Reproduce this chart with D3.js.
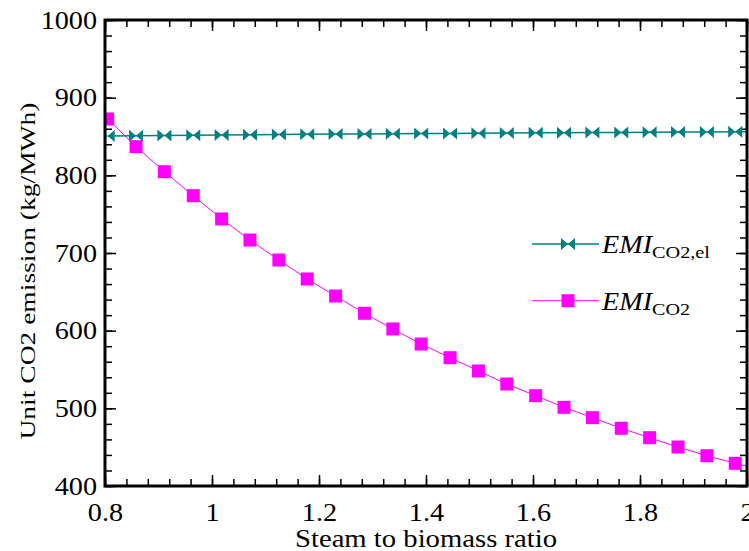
<!DOCTYPE html>
<html>
<head>
<meta charset="utf-8">
<script src="https://cdn.jsdelivr.net/npm/d3@7/dist/d3.min.js"></script>
<style>
  body { margin: 0; background: #fff; }
  svg { display: block; font-family: "Liberation Serif", "Times New Roman", serif; }
</style>
</head>
<body>
<div id="chart"></div>
<script>
// steam-to-biomass sweep
var steamRatio = [0.805, 0.858, 0.911, 0.965, 1.018, 1.071, 1.125, 1.178, 1.231, 1.285, 1.338, 1.391,
                  1.445, 1.498, 1.551, 1.605, 1.658, 1.711, 1.765, 1.818, 1.871, 1.925, 1.978, 2.031];
var emiCO2el   = [850.5, 851.0, 851.3, 851.6, 851.9, 852.2, 852.5, 852.8, 853.1, 853.3, 853.6, 853.8,
                  854.0, 854.3, 854.5, 854.7, 854.9, 855.1, 855.3, 855.5, 855.7, 855.9, 856.1, 856.3];
var emiCO2     = [872.5, 836.9, 804.7, 773.8, 743.8, 716.7, 691.0, 666.5, 644.6, 622.4, 602.2, 582.8,
                  565.2, 548.1, 531.3, 516.3, 501.3, 488.0, 474.3, 462.2, 450.2, 439.0, 429.2, 420.0];

var xTicks = [0.8, 1, 1.2, 1.4, 1.6, 1.8, 2];
var yTicks = [400, 500, 600, 700, 800, 900, 1000];

var TEAL = '#008080';
var MAGENTA = '#FF00FF';

var W = 749, H = 551;
var margin = { top: 20, right: 2, bottom: 65, left: 105 };
var w = W - margin.left - margin.right;
var h = H - margin.top - margin.bottom;

var svg = d3.select('#chart').append('svg')
  .attr('width', W)
  .attr('height', H);

var g = svg.append('g').attr('transform', 'translate(' + margin.left + ',' + margin.top + ')');

var x = d3.scaleLinear().domain([0.8, 2]).range([0, w]);
var y = d3.scaleLinear().domain([400, 1000]).range([h, 0]);

var xMinor = d3.range(0.8, 2.0001, 0.04).map(function(v){ return +v.toFixed(2); });
var yMinor = d3.range(400, 1001, 20);
var fmt = function(d){ return String(+d.toFixed(1)); };

// minor ticks, all four sides, pointing in
function minorAxis(axis, tr){
  g.append('g').attr('transform', tr || null)
    .call(axis.tickSize(-7).tickFormat(''))
    .call(function(s){ s.select('.domain').remove(); s.selectAll('line').attr('stroke-width', 1.5); });
}
minorAxis(d3.axisBottom(x).tickValues(xMinor), 'translate(0,' + h + ')');
minorAxis(d3.axisTop(x).tickValues(xMinor));
minorAxis(d3.axisLeft(y).tickValues(yMinor));
minorAxis(d3.axisRight(y).tickValues(yMinor), 'translate(' + w + ',0)');

// major ticks
function majorAxis(axis, tr, labels){
  var a = g.append('g').attr('transform', tr || null)
    .call(axis.tickSize(-11))
    .call(function(s){ s.select('.domain').remove(); s.selectAll('line').attr('stroke-width', 1.5); });
  if(!labels) a.selectAll('text').remove();
  return a;
}
var bx = majorAxis(d3.axisBottom(x).tickValues(xTicks).tickFormat(fmt).tickPadding(17), 'translate(0,' + h + ')', true);
majorAxis(d3.axisTop(x).tickValues(xTicks), null, false);
var ly = majorAxis(d3.axisLeft(y).tickValues(yTicks).tickFormat(fmt).tickPadding(7), null, true);
majorAxis(d3.axisRight(y).tickValues(yTicks), 'translate(' + w + ',0)', false);

[bx, ly].forEach(function(a){
  a.selectAll('text')
    .attr('fill', '#000')
    .style('font-family', '"Liberation Serif", serif')
    .style('font-size', '25px')
    .attr('transform', 'scale(1.13,1)');
});

// data
var clip = svg.append('clipPath').attr('id', 'plotClip');
clip.append('rect').attr('width', w).attr('height', h);
var plot = g.append('g').attr('clip-path', 'url(#plotClip)');

var line = function(vals){
  return d3.line()
    .x(function(d, i){ return x(steamRatio[i]); })
    .y(function(d){ return y(d); })(vals);
};

var bowtie = 'M-7,-6L0,0L-7,6Z M7,-6L0,0L7,6Z';

plot.append('path').attr('d', line(emiCO2el))
  .attr('fill', 'none').attr('stroke', TEAL).attr('stroke-width', 1.5);
plot.append('path').attr('d', line(emiCO2))
  .attr('fill', 'none').attr('stroke', MAGENTA).attr('stroke-width', 1);

plot.selectAll('.mk-el').data(emiCO2el).enter().append('path')
  .attr('class', 'mk-el')
  .attr('d', bowtie)
  .attr('transform', function(d, i){ return 'translate(' + x(steamRatio[i]) + ',' + y(d) + ')'; })
  .attr('fill', TEAL);

plot.selectAll('.mk-co2').data(emiCO2).enter().append('rect')
  .attr('class', 'mk-co2')
  .attr('x', function(d, i){ return x(steamRatio[i]) - 6.5; })
  .attr('y', function(d){ return y(d) - 6.5; })
  .attr('width', 13).attr('height', 13)
  .attr('fill', MAGENTA);

// frame
g.append('rect').attr('width', w).attr('height', h)
  .attr('fill', 'none').attr('stroke', '#000').attr('stroke-width', 3);

// axis titles
svg.append('text')
  .attr('x', margin.left + w / 2).attr('y', 547)
  .attr('text-anchor', 'middle')
  .attr('textLength', 262).attr('lengthAdjust', 'spacingAndGlyphs')
  .style('font-size', '25.5px')
  .text('Steam to biomass ratio');

svg.append('text')
  .attr('transform', 'translate(35,271) rotate(-90)')
  .attr('text-anchor', 'middle')
  .attr('textLength', 337).attr('lengthAdjust', 'spacingAndGlyphs')
  .style('font-size', '22px')
  .text('Unit CO2 emission (kg/MWh)');

// legend
var legend = svg.append('g');
var items = [
  { sub: 'CO2,el', subLen: 58, color: TEAL, ly: 244, base: 252.5, subBase: 258, marker: 'bowtie' },
  { sub: 'CO2', subLen: 38, color: MAGENTA, ly: 300.7, base: 310, subBase: 314.5, marker: 'square' }
];
items.forEach(function(it){
  legend.append('line')
    .attr('x1', 532).attr('x2', 599).attr('y1', it.ly).attr('y2', it.ly)
    .attr('stroke', it.color).attr('stroke-width', it.marker === 'bowtie' ? 1.5 : 1);
  if(it.marker === 'bowtie'){
    legend.append('path').attr('d', bowtie)
      .attr('transform', 'translate(568,' + it.ly + ')').attr('fill', it.color);
  } else {
    legend.append('rect').attr('x', 561.5).attr('y', it.ly - 6.5)
      .attr('width', 13).attr('height', 13).attr('fill', it.color);
  }
  legend.append('text')
    .attr('x', 602).attr('y', it.base)
    .attr('textLength', 50).attr('lengthAdjust', 'spacingAndGlyphs')
    .style('font-size', '25px').style('font-style', 'italic')
    .text('EMI');
  legend.append('text')
    .attr('x', 652).attr('y', it.subBase)
    .attr('textLength', it.subLen).attr('lengthAdjust', 'spacingAndGlyphs')
    .style('font-size', '17.5px')
    .text(it.sub);
});
</script>
</body>
</html>
